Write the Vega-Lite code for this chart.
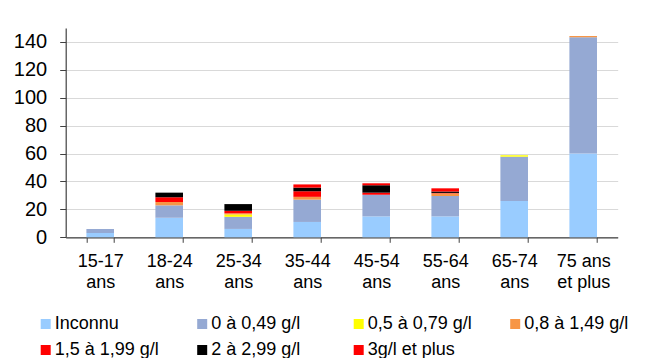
{
  "$schema": "https://vega.github.io/schema/vega-lite/v6.json",
  "autosize": {"type": "none"},
  "width": 552,
  "height": 209.3,
  "padding": {"left": 65.7, "top": 28, "right": 31.3, "bottom": 120.7},
  "background": "white",
  "config": {
    "font": "Liberation Sans",
    "view": {"stroke": null}
  },
  "data": {
    "values": [
      {"age": "15-17 ans", "classe": "Inconnu", "rang": 1, "valeur": 3},
      {"age": "15-17 ans", "classe": "0 à 0,49 g/l", "rang": 2, "valeur": 3},
      {"age": "18-24 ans", "classe": "Inconnu", "rang": 1, "valeur": 14},
      {"age": "18-24 ans", "classe": "0 à 0,49 g/l", "rang": 2, "valeur": 8.9},
      {"age": "18-24 ans", "classe": "0,8 à 1,49 g/l", "rang": 4, "valeur": 2.4},
      {"age": "18-24 ans", "classe": "1,5 à 1,99 g/l", "rang": 5, "valeur": 3.4},
      {"age": "18-24 ans", "classe": "2 à 2,99 g/l", "rang": 6, "valeur": 3.3},
      {"age": "25-34 ans", "classe": "Inconnu", "rang": 1, "valeur": 6},
      {"age": "25-34 ans", "classe": "0 à 0,49 g/l", "rang": 2, "valeur": 8.7},
      {"age": "25-34 ans", "classe": "0,5 à 0,79 g/l", "rang": 3, "valeur": 1.7},
      {"age": "25-34 ans", "classe": "0,8 à 1,49 g/l", "rang": 4, "valeur": 0.8},
      {"age": "25-34 ans", "classe": "1,5 à 1,99 g/l", "rang": 5, "valeur": 1.8},
      {"age": "25-34 ans", "classe": "2 à 2,99 g/l", "rang": 6, "valeur": 4.8},
      {"age": "35-44 ans", "classe": "Inconnu", "rang": 1, "valeur": 11},
      {"age": "35-44 ans", "classe": "0 à 0,49 g/l", "rang": 2, "valeur": 16},
      {"age": "35-44 ans", "classe": "0,8 à 1,49 g/l", "rang": 4, "valeur": 2},
      {"age": "35-44 ans", "classe": "1,5 à 1,99 g/l", "rang": 5, "valeur": 4},
      {"age": "35-44 ans", "classe": "2 à 2,99 g/l", "rang": 6, "valeur": 2.6},
      {"age": "35-44 ans", "classe": "3g/l et plus", "rang": 7, "valeur": 2.3},
      {"age": "45-54 ans", "classe": "Inconnu", "rang": 1, "valeur": 15},
      {"age": "45-54 ans", "classe": "0 à 0,49 g/l", "rang": 2, "valeur": 15.5},
      {"age": "45-54 ans", "classe": "1,5 à 1,99 g/l", "rang": 5, "valeur": 1.5},
      {"age": "45-54 ans", "classe": "2 à 2,99 g/l", "rang": 6, "valeur": 5.3},
      {"age": "45-54 ans", "classe": "3g/l et plus", "rang": 7, "valeur": 1.4},
      {"age": "55-64 ans", "classe": "Inconnu", "rang": 1, "valeur": 15},
      {"age": "55-64 ans", "classe": "0 à 0,49 g/l", "rang": 2, "valeur": 14.6},
      {"age": "55-64 ans", "classe": "0,8 à 1,49 g/l", "rang": 4, "valeur": 1.9},
      {"age": "55-64 ans", "classe": "1,5 à 1,99 g/l", "rang": 5, "valeur": 0.3},
      {"age": "55-64 ans", "classe": "2 à 2,99 g/l", "rang": 6, "valeur": 1},
      {"age": "55-64 ans", "classe": "3g/l et plus", "rang": 7, "valeur": 2.3},
      {"age": "65-74 ans", "classe": "Inconnu", "rang": 1, "valeur": 26},
      {"age": "65-74 ans", "classe": "0 à 0,49 g/l", "rang": 2, "valeur": 31.8},
      {"age": "65-74 ans", "classe": "0,5 à 0,79 g/l", "rang": 3, "valeur": 1},
      {"age": "75 ans et plus", "classe": "Inconnu", "rang": 1, "valeur": 60},
      {"age": "75 ans et plus", "classe": "0 à 0,49 g/l", "rang": 2, "valeur": 83.4},
      {"age": "75 ans et plus", "classe": "0,8 à 1,49 g/l", "rang": 4, "valeur": 0.9}
    ]
  },
  "mark": {"type": "bar"},
  "encoding": {
    "x": {
      "field": "age",
      "type": "nominal",
      "sort": null,
      "scale": {"paddingInner": 0.6, "paddingOuter": 0.3},
      "axis": {
        "title": null,
        "labelAngle": 0,
        "labelFontSize": 18,
        "labelColor": "#000000",
        "labelLineHeight": 21,
        "labelPadding": 10,
        "labelExpr": "!isValid(datum.value) || datum.label == '' ? '' : (datum.value == '75 ans et plus' ? ['75 ans', 'et plus'] : split(datum.value, ' '))",
        "tickBand": "extent",
        "tickSize": 5,
        "tickColor": "#404040",
        "domainColor": "#404040",
        "domainWidth": 1.2,
        "grid": false
      }
    },
    "y": {
      "field": "valeur",
      "type": "quantitative",
      "stack": "zero",
      "scale": {"domain": [0, 150], "nice": false},
      "axis": {
        "title": null,
        "values": [0, 20, 40, 60, 80, 100, 120, 140],
        "labelFontSize": 20,
        "labelColor": "#000000",
        "labelPadding": 13,
        "tickSize": 6,
        "tickColor": "#404040",
        "domainColor": "#404040",
        "domainWidth": 1.2,
        "grid": true,
        "gridColor": "#d9d9d9",
        "gridWidth": 1.2
      }
    },
    "color": {
      "field": "classe",
      "type": "nominal",
      "scale": {
        "domain": ["Inconnu", "0 à 0,49 g/l", "0,5 à 0,79 g/l", "0,8 à 1,49 g/l", "1,5 à 1,99 g/l", "2 à 2,99 g/l", "3g/l et plus"],
        "range": ["#99ccff", "#95a9d3", "#ffff00", "#f79646", "#ff0000", "#000000", "#ff0000"]
      },
      "legend": {
        "title": null,
        "orient": "none",
        "legendX": -29,
        "legendY": 287,
        "direction": "horizontal",
        "columns": 4,
        "gridAlign": "all",
        "columnPadding": 33.5,
        "rowPadding": 8,
        "padding": 0,
        "symbolType": "square",
        "symbolSize": 100,
        "symbolStrokeWidth": 0,
        "symbolOpacity": 1,
        "labelFontSize": 18,
        "labelColor": "#000000",
        "labelOffset": 0,
        "labelLimit": 300
      }
    },
    "order": {"field": "rang", "type": "quantitative", "sort": "ascending"}
  }
}
